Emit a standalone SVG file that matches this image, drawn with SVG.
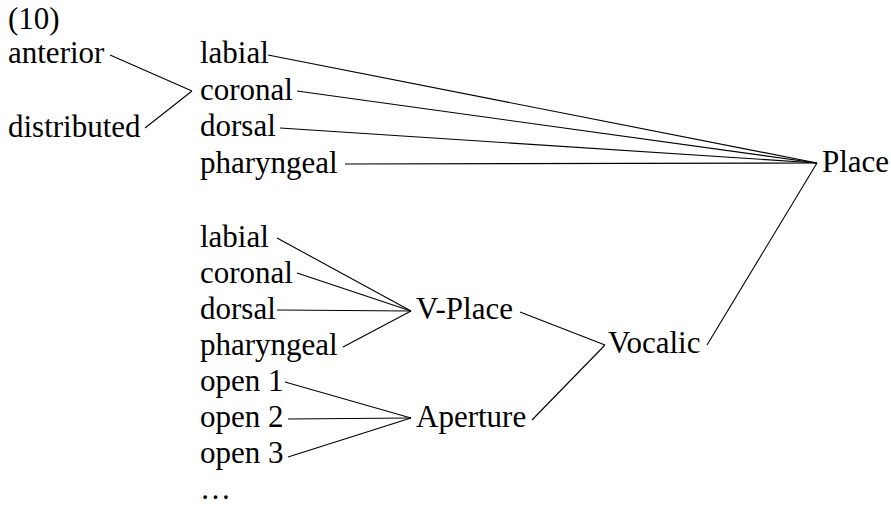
<svg xmlns="http://www.w3.org/2000/svg" width="891" height="508" viewBox="0 0 891 508">
<style>
text{font-family:'Liberation Serif','Times New Roman',serif;font-size:31px;fill:#000}
#connectors line{stroke:#000;stroke-width:1.1;fill:none}
</style>
<rect width="891" height="508" fill="#fff"/>
<g id="label10"><text x="8" y="29">(10)</text></g>
<g id="anterior"><text x="8" y="63">anterior</text></g>
<g id="distributed"><text x="8" y="137">distributed</text></g>
<g id="labial1"><text x="200" y="63">labial</text></g>
<g id="coronal1"><text x="200" y="100">coronal</text></g>
<g id="dorsal1"><text x="200" y="136">dorsal</text></g>
<g id="pharyngeal1"><text x="200" y="173">pharyngeal</text></g>
<g id="place"><text x="822" y="172">Place</text></g>
<g id="labial2"><text x="200" y="247">labial</text></g>
<g id="coronal2"><text x="200" y="283">coronal</text></g>
<g id="dorsal2"><text x="200" y="319">dorsal</text></g>
<g id="pharyngeal2"><text x="200" y="355">pharyngeal</text></g>
<g id="open1"><text x="200" y="391">open 1</text></g>
<g id="open2"><text x="200" y="427">open 2</text></g>
<g id="open3"><text x="200" y="463">open 3</text></g>
<g id="ellipsis"><text x="200" y="499">…</text></g>
<g id="vplace"><text x="416" y="319">V-Place</text></g>
<g id="aperture"><text x="416" y="427">Aperture</text></g>
<g id="vocalic"><text x="608" y="353">Vocalic</text></g>
<g id="connectors">
<line x1="110" y1="55" x2="192" y2="91"/>
<line x1="145" y1="128" x2="192" y2="91"/>
<line x1="268" y1="55" x2="817" y2="163"/>
<line x1="297" y1="91" x2="817" y2="163"/>
<line x1="280" y1="128" x2="817" y2="163"/>
<line x1="345" y1="164" x2="817" y2="163"/>
<line x1="707" y1="345" x2="817" y2="163"/>
<line x1="277" y1="238" x2="411" y2="311"/>
<line x1="297" y1="273" x2="411" y2="311"/>
<line x1="277" y1="310" x2="411" y2="311"/>
<line x1="343" y1="347" x2="411" y2="311"/>
<line x1="520" y1="312" x2="605" y2="345"/>
<line x1="532" y1="420" x2="605" y2="345"/>
<line x1="285" y1="382" x2="411" y2="418"/>
<line x1="288" y1="419" x2="411" y2="418"/>
<line x1="288" y1="457" x2="411" y2="418"/>
</g>
</svg>
